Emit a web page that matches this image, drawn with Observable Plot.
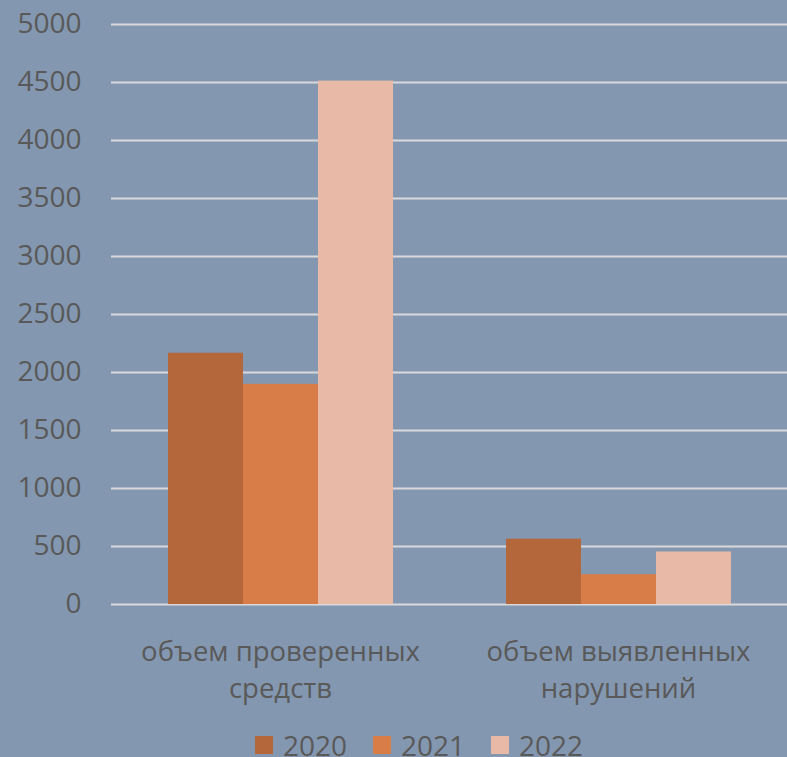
<!DOCTYPE html>
<html>
<head>
<meta charset="utf-8">
<script src="https://cdn.jsdelivr.net/npm/d3@7"></script>
<script src="https://cdn.jsdelivr.net/npm/@observablehq/plot@0.6"></script>
<style>
  html, body { margin: 0; padding: 0; background: #8497B0; overflow: hidden; }
  body { width: 787px; height: 757px; font-family: "Open Sans", sans-serif; }
  #legend { margin-top: 11px; padding-left: 255px; display: flex; align-items: center; line-height: 28px; font-size: 28px; color: #595959; }
  .item { display: flex; align-items: center; margin-right: 26px; }
  .sw { width: 18px; height: 18px; margin-right: 10px; }
</style>
</head>
<body>
<div id="chart"></div>
<div id="legend"></div>
<script>
const categories = ["объем проверенных\nсредств", "объем выявленных\nнарушений"];
const years = ["2020", "2021", "2022"];
const values2020 = [2166, 563];
const values2021 = [1898, 257];
const values2022 = [4512, 453];
const yTicks = [0, 500, 1000, 1500, 2000, 2500, 3000, 3500, 4000, 4500, 5000];
const colors = ["#B3673A", "#D97D48", "#E8B9A6"];

const series = [values2020, values2021, values2022];
const data = [];
categories.forEach((c, i) => {
  years.forEach((y, j) => data.push({category: c, year: y, value: series[j][i]}));
});

const chart = Plot.plot({
  width: 787,
  height: 720,
  marginTop: 24,
  marginBottom: 116,
  marginLeft: 110,
  marginRight: 0,
  style: {background: "transparent", color: "#595959", fontFamily: "Open Sans, sans-serif", fontSize: "28px"},
  fx: {domain: categories, padding: 0, axis: null, label: null},
  x: {domain: years, paddingInner: 0, paddingOuter: 0.74, axis: null, label: null},
  y: {domain: [0, 5000], axis: null, label: null},
  color: {domain: years, range: colors},
  marks: [
    Plot.gridY(yTicks, {stroke: "#D9D9D9", strokeOpacity: 1, strokeWidth: 2}),
    Plot.barY(data, {fx: "category", x: "year", y: "value", fill: "year", inset: 0}),
    Plot.axisY(yTicks, {tickSize: 0, tickPadding: 30, fontSize: 28, fill: "#595959", label: null, tickFormat: d => String(d)}),
    Plot.axisFx({anchor: "bottom", tickSize: 0, tickPadding: 31, fontSize: 27.5, lineHeight: 1.33, fill: "#595959", label: null})
  ]
});
document.getElementById("chart").appendChild(chart);

const legend = document.getElementById("legend");
years.forEach((y, i) => {
  const item = document.createElement("div");
  item.className = "item";
  const sw = document.createElement("span");
  sw.className = "sw";
  sw.style.background = colors[i];
  const t = document.createElement("span");
  t.textContent = y;
  item.appendChild(sw);
  item.appendChild(t);
  legend.appendChild(item);
});
</script>
</body>
</html>
